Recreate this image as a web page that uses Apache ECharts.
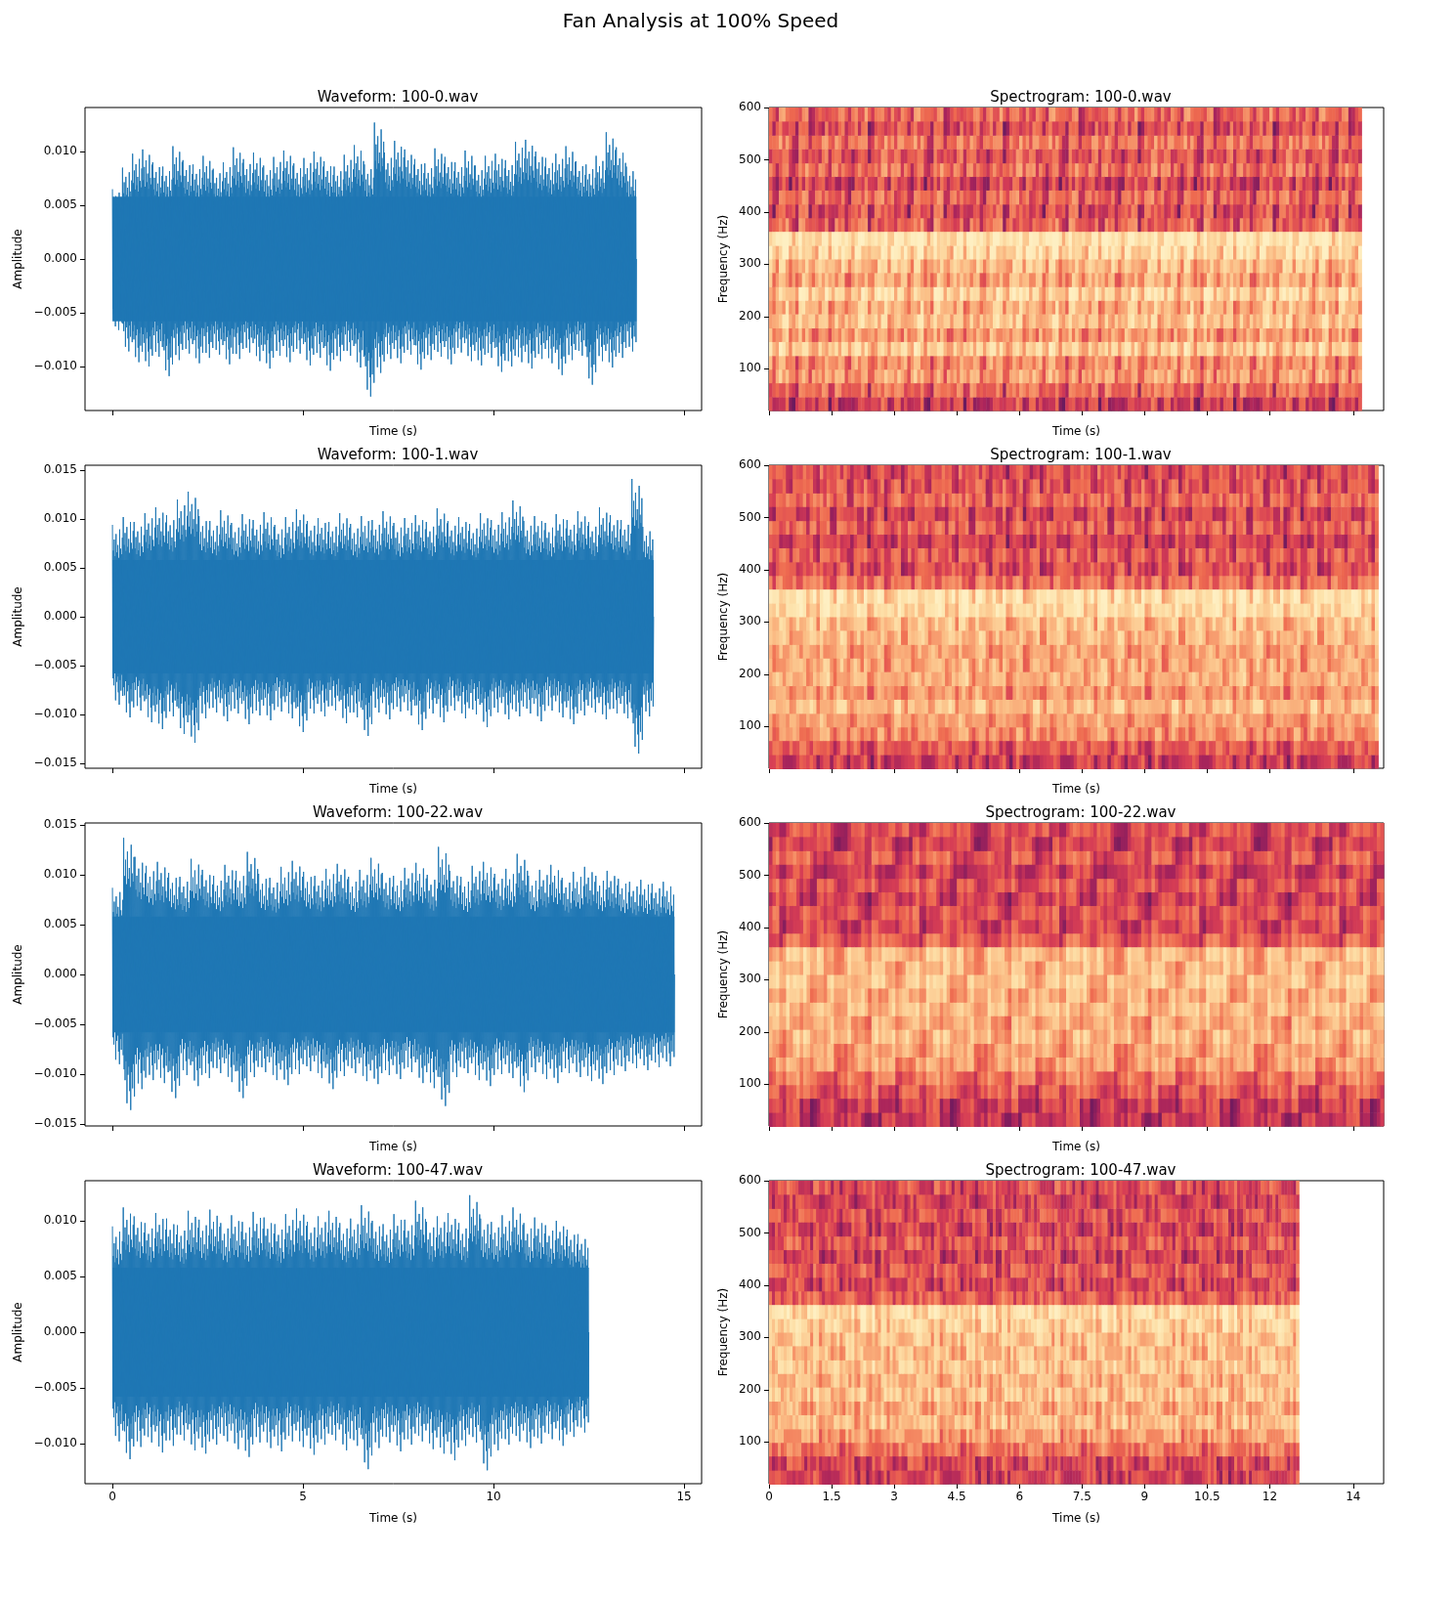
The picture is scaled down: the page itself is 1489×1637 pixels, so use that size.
<!DOCTYPE html>
<html><head><meta charset="utf-8">
<script src="https://cdn.jsdelivr.net/npm/echarts@6/dist/echarts.min.js"></script>
<style>html,body{margin:0;background:#fff}#c{width:1489px;height:1637px}</style>
</head><body><div id="c"></div>
<script>
// ---- data (amplitudes in units of 0.001) ----
const fileNames = ['100-0.wav','100-1.wav','100-22.wav','100-47.wav'];
const durations = [13.75, 14.2, 14.75, 12.5];
const specEnds = [14.2, 14.6, 14.73, 12.7];
const waveUpper = [
 [6.5,8.5,9.8,10.2,9.0,8.6,10.5,9.2,8.8,9.6,8.4,9.0,10.4,9.3,9.9,8.7,9.5,10.1,8.9,9.4,10.0,9.1,8.6,9.7,10.6,8.8,12.7,9.9,11.0,10.2,9.3,8.9,10.3,9.5,9.0,10.1,8.7,9.6,9.8,9.2,10.9,11.1,10.0,9.4,9.8,10.5,9.1,8.8,9.6,11.8,10.4,8.6],
 [9.4,10.2,9.7,10.6,11.2,10.4,12.0,12.8,10.3,9.8,10.9,9.6,10.5,9.9,10.7,9.4,10.2,11.0,9.8,10.1,9.7,10.6,9.5,10.3,9.9,10.8,9.6,10.1,10.4,9.7,11.1,9.8,10.2,9.5,10.6,9.9,10.7,11.9,9.8,10.3,9.6,10.5,9.9,10.8,9.7,11.2,10.4,9.9,14.1,9.2],
 [8.7,13.7,11.8,10.9,11.3,10.2,9.8,11.6,10.5,9.9,11.0,10.4,12.3,10.1,9.7,10.8,11.4,10.3,9.9,10.6,11.1,9.8,10.5,11.7,10.2,9.9,10.7,11.2,10.0,12.8,10.4,9.8,10.9,11.3,10.1,10.6,12.1,9.9,10.5,11.0,9.7,10.3,10.8,9.9,10.4,9.6,9.3,9.5,9.1,9.3],
 [9.5,11.2,10.4,9.8,10.7,10.2,9.6,10.9,10.1,11.0,9.8,10.5,9.9,10.8,10.3,9.7,10.6,11.1,9.9,10.4,10.9,9.8,10.2,11.4,10.0,9.7,10.6,10.1,11.8,9.9,10.4,10.7,9.8,12.3,10.2,9.9,10.5,11.2,9.8,10.3,9.6,10.0,9.2,8.8]
];
const waveLower = [
 [-6.6,-8.6,-9.6,-10.0,-9.1,-10.9,-9.4,-8.8,-9.7,-9.2,-8.9,-9.8,-9.3,-8.7,-9.5,-10.2,-9.0,-9.6,-8.8,-9.9,-9.2,-10.4,-9.5,-9.0,-10.1,-12.8,-10.6,-9.3,-9.7,-8.9,-10.3,-9.4,-9.1,-9.8,-8.7,-9.5,-9.9,-9.2,-10.5,-10.0,-9.6,-10.2,-9.3,-9.7,-10.8,-9.4,-9.0,-11.7,-9.5,-10.1,-9.2,-8.6],
 [-9.0,-10.3,-9.6,-10.8,-11.5,-10.2,-12.0,-12.9,-10.4,-9.8,-10.7,-9.9,-11.0,-10.1,-10.6,-9.7,-10.4,-11.8,-9.9,-10.2,-9.6,-10.9,-10.3,-12.2,-9.8,-10.5,-9.7,-10.1,-11.6,-9.9,-10.8,-9.6,-10.4,-10.0,-11.3,-9.8,-10.5,-10.2,-9.9,-10.7,-9.6,-10.3,-11.0,-10.1,-9.8,-10.5,-9.9,-10.4,-14.0,-10.2],
 [-9.0,-13.6,-11.5,-10.6,-10.9,-12.4,-10.1,-11.2,-10.4,-9.9,-10.8,-12.4,-10.3,-9.8,-10.6,-11.1,-10.0,-9.7,-10.4,-11.5,-10.2,-9.9,-10.7,-11.0,-10.1,-10.5,-9.8,-10.9,-11.4,-13.2,-10.3,-9.9,-10.6,-11.2,-10.0,-10.4,-11.8,-9.8,-10.5,-10.9,-9.9,-10.3,-10.7,-11.0,-10.1,-9.7,-9.4,-9.6,-9.3,-9.2],
 [-9.8,-11.4,-10.3,-9.9,-10.8,-10.2,-9.7,-10.6,-10.9,-10.1,-9.8,-10.5,-11.2,-9.9,-10.4,-10.7,-9.8,-10.3,-11.0,-10.1,-9.7,-10.6,-10.2,-12.3,-10.4,-9.9,-10.7,-10.1,-9.8,-10.5,-10.9,-11.5,-10.2,-9.9,-12.4,-10.6,-10.1,-9.8,-10.4,-10.0,-9.6,-10.2,-9.4,-9.0]
];
const burstShape = [1.0,0.72,0.84,0.66,0.9,0.7,0.78,0.64,0.95,0.74,0.68,0.86];
const waveRanges = [14.1, 15.5, 15.2, 13.6];
const freqEdges = [20,46,73,99,125,152,178,205,231,257,284,310,336,363,389,415,442,468,494,521,547,574,600];
const bandLevels = [
 [0.30,0.45,0.60,0.55,0.75,0.58,0.72,0.66,0.78,0.62,0.70,0.82,0.88,0.42,0.36,0.44,0.32,0.46,0.38,0.48,0.36,0.44],
 [0.32,0.42,0.58,0.62,0.72,0.60,0.68,0.66,0.64,0.70,0.72,0.84,0.86,0.50,0.38,0.42,0.34,0.44,0.36,0.46,0.40,0.38],
 [0.30,0.32,0.42,0.50,0.62,0.64,0.70,0.66,0.72,0.68,0.74,0.70,0.72,0.44,0.36,0.40,0.34,0.40,0.32,0.42,0.34,0.38],
 [0.34,0.36,0.50,0.62,0.72,0.66,0.74,0.70,0.76,0.72,0.74,0.80,0.84,0.44,0.36,0.42,0.34,0.42,0.34,0.40,0.34,0.38]
];
const timeLevels = [
 [0.05,-0.05,0.08,-0.10,0.02,0.10,-0.06,0.04,-0.12,0.12,0.06,-0.04,0.10,-0.08,0.03,0.11,-0.02,0.07,-0.09,0.05,0.12,-0.07,0.02,0.09,-0.11,0.04,-0.03,0.10,-0.06,0.06,0.08,-0.10,0.03,0.11,-0.05,0.07,-0.08,0.09,0.01,-0.04,0.06],
 [0.02,-0.06,0.07,-0.03,0.09,-0.10,0.04,0.06,-0.08,0.03,0.10,-0.05,0.05,-0.09,0.08,0.01,-0.07,0.06,-0.02,0.09,-0.11,0.04,0.07,-0.06,0.02,0.08,-0.04,0.05,-0.10,0.06,0.03,-0.07,0.09,-0.03,0.05,-0.08,0.07,0.01,-0.05,0.04,-0.02],
 [-0.03,0.05,-0.08,0.06,0.02,-0.10,0.08,-0.04,0.07,-0.06,0.03,0.09,-0.09,0.05,-0.02,0.08,-0.07,0.04,0.06,-0.11,0.03,0.07,-0.05,0.02,0.09,-0.08,0.05,-0.03,0.06,-0.09,0.08,0.01,-0.06,0.07,-0.04,0.05,-0.08,0.03,0.06,-0.05,0.04],
 [0.04,-0.07,0.06,-0.02,0.08,-0.09,0.03,0.07,-0.05,0.05,-0.10,0.09,0.02,-0.06,0.07,-0.03,0.05,-0.08,0.08,0.01,-0.07,0.06,-0.04,0.09,-0.02,0.04,-0.09,0.07,0.03,-0.06,0.05,-0.08,0.08,0.02,-0.05,0.06,-0.03,0.07,-0.07,0.04,-0.01]
];
const specTicks = [0,1.5,3,4.5,6,7.5,9,10.5,12,14];

const tops = [110,476,842,1208], H = 310;
const grid=[], xAxis=[], yAxis=[], series=[];
const font = {fontFamily:'DejaVu Sans', color:'#000'};
const tick = {show:true,lineStyle:{color:'#000'},length:5,inside:false};
const titles=[];
for (let i=0;i<4;i++){
  const last = i===3;
  grid.push({left:87,top:tops[i],width:631,height:H,show:true,borderColor:'#000',borderWidth:1,backgroundColor:'transparent'});
  grid.push({left:787,top:tops[i],width:629,height:H,show:true,borderColor:'#000',borderWidth:1,backgroundColor:'transparent'});
  const axX = {type:'value',position:'bottom',splitLine:{show:false},axisLine:{show:false,onZero:false},
    name:'Time (s)',nameLocation:'middle',nameGap:last?30:16,nameTextStyle:{...font,fontSize:12}};
  xAxis.push({...axX,gridIndex:2*i,min:-0.72,max:15.46,
    axisTick:{...tick,customValues:[0,5,10,15]},
    axisLabel:{show:last,...font,fontSize:12,customValues:[0,5,10,15]}});
  xAxis.push({...axX,gridIndex:2*i+1,min:0,max:14.73,
    axisTick:{...tick,customValues:specTicks},
    axisLabel:{show:last,...font,fontSize:12,customValues:specTicks}});
  const r = waveRanges[i]/1000;
  const wt = i===0||i===3 ? [-0.01,-0.005,0,0.005,0.01] : [-0.015,-0.01,-0.005,0,0.005,0.01,0.015];
  yAxis.push({type:'value',position:'left',gridIndex:2*i,min:-r,max:r,splitLine:{show:false},
    axisLine:{show:false,onZero:false},axisTick:{...tick,customValues:wt},
    axisLabel:{...font,fontSize:12,customValues:wt,formatter:v=>(v<0?'\u22120':'0')+Math.abs(v).toFixed(3).slice(1)},
    name:'Amplitude',nameLocation:'middle',nameGap:62,nameRotate:90,nameTextStyle:{...font,fontSize:12}});
  const st=[100,200,300,400,500,600];
  yAxis.push({type:'value',position:'left',gridIndex:2*i+1,min:20,max:600,splitLine:{show:false},
    axisLine:{show:false,onZero:false},axisTick:{...tick,customValues:st},
    axisLabel:{...font,fontSize:12,customValues:st},
    name:'Frequency (Hz)',nameLocation:'middle',nameGap:40,nameRotate:90,nameTextStyle:{...font,fontSize:12}});
  const up=waveUpper[i], lo=waveLower[i], n=up.length;
  const pts=[], reps=burstShape.length;
  const total=n*reps, dt=durations[i]/total;
  for(let k=0;k<total;k++){
    const t=k*dt, j=Math.floor(k/reps);
    pts.push([t,up[j]/1000*burstShape[k%reps]]);
    pts.push([t+dt/2,lo[Math.min(j,lo.length-1)]/1000*burstShape[(k+5)%reps]]);
  }
  pts.push([durations[i],0]);
  series.push({type:'line',xAxisIndex:2*i,yAxisIndex:2*i,data:pts,showSymbol:false,
    lineStyle:{color:'#1f77b4',width:1},animation:false,z:2});
  series.push({type:'line',xAxisIndex:2*i,yAxisIndex:2*i,data:[[0,0.0058],[durations[i],0.0058]],showSymbol:false,
    lineStyle:{width:0},areaStyle:{color:'#1f77b4',origin:-0.0058,opacity:1},animation:false,z:1});
  const cells=[], tl=timeLevels[i], nc=180;
  for(let c=0;c<nc;c++){
    const t0=specEnds[i]*c/nc, t1=specEnds[i]*(c+1)/nc;
    for(let b=0;b<22;b++){
      const v=bandLevels[i][b]+tl[(c*7+b*3)%tl.length]*1.3+tl[(c*3)%tl.length]*0.9;
      cells.push([t0,t1,freqEdges[b],freqEdges[b+1],v]);
    }
  }
  series.push({type:'custom',xAxisIndex:2*i+1,yAxisIndex:2*i+1,data:cells,animation:false,
    encode:{x:[0,1],y:[2,3]},
    renderItem:(p,api)=>{
      const a=api.coord([api.value(0),api.value(3)]), b=api.coord([api.value(1),api.value(2)]);
      return {type:'rect',shape:{x:a[0],y:a[1],width:b[0]-a[0]+0.5,height:b[1]-a[1]+0.5},style:{fill:api.visual('color')}};
    }});
  titles.push({text:'Waveform: '+fileNames[i],left:402,top:tops[i]-22,textAlign:'center',textStyle:{...font,fontSize:15,fontWeight:'normal'}});
  titles.push({text:'Spectrogram: '+fileNames[i],left:1101,top:tops[i]-22,textAlign:'center',textStyle:{...font,fontSize:15,fontWeight:'normal'}});
}
titles.unshift({text:'Fan Analysis at 100% Speed',left:712,top:8,textAlign:'center',textStyle:{...font,fontSize:20,fontWeight:'normal'}});
const chart=echarts.init(document.getElementById('c'));
chart.setOption({animation:false,title:titles,grid,xAxis,yAxis,series,
  visualMap:{show:false,dimension:4,min:0.1,max:1.0,seriesIndex:[2,5,8,11],
    inRange:{color:['#6b1a5e','#a8245c','#d63d55','#ee6a50','#f6956a','#fbbd85','#fde0a8','#feefc2']}}});
</script></body></html>
